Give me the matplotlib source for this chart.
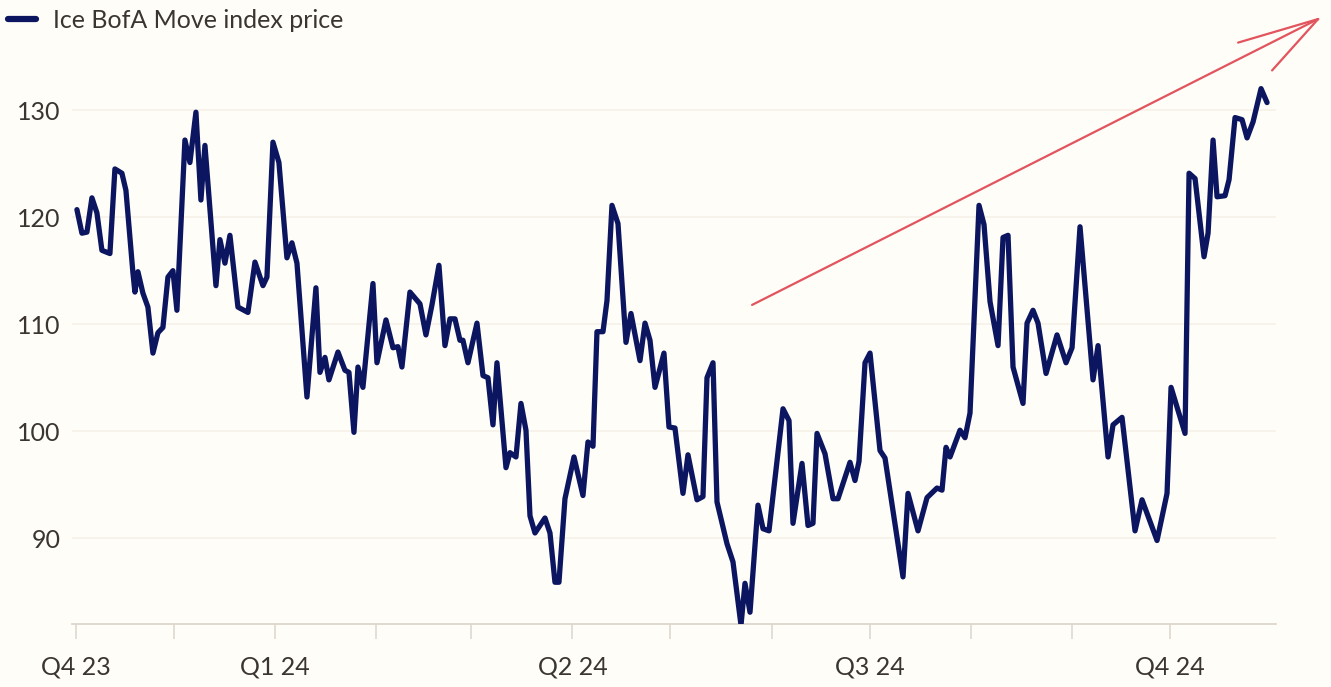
import matplotlib
matplotlib.use("Agg")
import matplotlib.pyplot as plt
import pandas as pd

# ---- data ----
start_date = "2023-11-01"
# days since start_date
days = [0.31, 1.84, 3.37, 4.90, 6.43, 7.96, 10.41, 11.94, 14.08, 15.31, 17.45, 18.06,
        18.98, 20.51, 22.04, 23.58, 25.11, 26.64, 28.17, 29.70, 30.92, 33.37, 34.90,
        36.74, 38.27, 39.50, 42.87, 44.09, 45.62, 47.15, 49.60, 52.66, 54.81, 57.26,
        58.48, 60.32, 62.15, 64.60, 66.13, 67.67, 70.73, 73.48, 74.71, 76.24, 77.46,
        80.22, 82.36, 83.59, 85.12, 86.34, 87.87, 90.94, 92.16, 94.92, 97.06, 98.59,
        99.81, 102.26, 105.33, 107.16, 109.00, 111.14, 112.98, 114.51, 116.04, 117.57,
        118.49, 120.02, 122.78, 124.62, 126.15, 127.68, 128.90, 131.66, 132.88, 134.72,
        136.25, 137.78, 139.01, 140.54, 143.60, 145.13, 146.66, 147.88, 149.72, 152.48,
        155.23, 156.76, 158.30, 159.52, 161.36, 162.58, 164.11, 165.95, 168.40, 169.93,
        172.69, 174.22, 175.75, 177.28, 180.03, 181.56, 183.40, 185.85, 187.38, 190.14,
        191.97, 193.20, 195.04, 196.26, 199.32, 201.16, 203.61, 204.83, 206.37, 208.81,
        210.35, 212.18, 216.47, 218.31, 219.53, 222.29, 224.12, 225.65, 226.88, 229.33,
        231.78, 233.31, 236.98, 238.51, 239.74, 241.58, 243.11, 246.17, 247.70, 253.21,
        254.74, 257.80, 260.56, 263.62, 265.15, 266.38, 267.60, 270.66, 272.19, 273.72,
        276.48, 278.01, 279.85, 282.30, 283.83, 285.36, 286.89, 289.95, 291.18, 293.01,
        294.54, 297.00, 300.36, 303.12, 304.96, 307.40, 311.38, 312.92, 315.98, 317.51,
        320.26, 324.24, 326.39, 330.98, 334.04, 335.27, 339.55, 340.78, 342.62, 345.37,
        346.60, 348.13, 349.35, 351.80, 353.03, 354.86, 357.01, 358.54, 360.38, 362.82,
        364.66]
move_index = [120.7, 118.5, 118.6, 121.8, 120.4, 116.9, 116.6, 124.5, 124.1, 122.5, 114.8, 113.0,
              114.9, 112.9, 111.6, 107.3, 109.2, 109.7, 114.4, 115.0, 111.3, 127.2, 125.1,
              129.8, 121.6, 126.7, 113.6, 117.9, 115.7, 118.3, 111.6, 111.1, 115.8, 113.6,
              114.4, 127.0, 125.1, 116.2, 117.6, 115.7, 103.2, 113.4, 105.5, 106.9, 104.8,
              107.4, 105.7, 105.5, 99.9, 106.0, 104.1, 113.8, 106.4, 110.4, 107.8, 107.9,
              106.0, 113.0, 111.9, 109.0, 111.8, 115.5, 108.0, 110.5, 110.5, 108.5,
              108.5, 106.4, 110.1, 105.2, 105.0, 100.6, 106.4, 96.6, 98.0, 97.6,
              102.6, 100.1, 92.1, 90.5, 91.9, 90.5, 85.9, 85.9, 93.7, 97.6,
              94.0, 99.0, 98.6, 109.3, 109.3, 112.2, 121.1, 119.4, 108.3, 111.0,
              106.6, 110.1, 108.5, 104.1, 107.3, 100.4, 100.3, 94.2, 97.8, 93.6,
              93.9, 105.0, 106.4, 93.4, 89.5, 87.8, 81.9, 85.8, 83.1, 93.1,
              90.9, 90.7, 102.1, 101.0, 91.4, 97.0, 91.2, 91.4, 99.8, 97.9,
              93.7, 93.7, 97.1, 95.4, 97.2, 106.4, 107.3, 98.2, 97.5, 86.4,
              94.2, 90.7, 93.8, 94.7, 94.5, 98.5, 97.6, 100.1, 99.4, 101.7,
              121.1, 119.3, 112.1, 108.0, 118.1, 118.3, 106.0, 102.6, 110.1, 111.3,
              110.1, 105.4, 109.0, 106.4, 107.8, 119.1, 104.8, 108.0, 97.6, 100.6,
              101.3, 90.7, 93.6, 89.8, 94.2, 104.1, 99.8, 124.1, 123.6, 116.3,
              118.5, 127.2, 121.9, 122.0, 123.5, 129.3, 129.1, 127.4, 128.9, 132.0,
              130.7]
series_label = "Ice BofA Move index price"
major_tick_dates = ["2023-11-01", "2024-01-01", "2024-04-01", "2024-07-01", "2024-10-01"]
major_tick_labels = ["Q4 23", "Q1 24", "Q2 24", "Q3 24", "Q4 24"]
minor_tick_dates = ["2023-12-01", "2024-02-01", "2024-03-01", "2024-05-01",
                    "2024-06-01", "2024-08-01", "2024-09-01"]
y_ticks = [90, 100, 110, 120, 130]

# ---- style ----
BG = "#fffdf7"
NAVY = "#0c1660"
TEXT = "#3a3530"
AXIS = "#ddd6cc"
GRID = "#f6f1e8"
RED = "#e2545e"
FONT = "Lato"

plt.rcParams["font.family"] = [FONT, "DejaVu Sans"]

W, H = 1331, 687
fig = plt.figure(figsize=(W / 100, H / 100), dpi=100, facecolor=BG)
ax = fig.add_axes([72 / W, 63 / H, (1276 - 72) / W, (624 - 85) / H])
ax.set_facecolor(BG)

t0 = pd.Timestamp(start_date)
dates = t0 + pd.to_timedelta(days, unit="D")

line, = ax.plot(dates, move_index, color=NAVY, lw=3.8, solid_joinstyle="round",
                solid_capstyle="round", label=series_label, zorder=3)

ax.set_xlim(t0 + pd.Timedelta(days=-1.2), t0 + pd.Timedelta(days=367.4))
ax.set_ylim(82.0, 132.34)

ax.set_xticks([pd.Timestamp(d) for d in major_tick_dates])
ax.set_xticklabels(major_tick_labels)
ax.set_xticks([pd.Timestamp(d) for d in minor_tick_dates], minor=True)
ax.tick_params(axis="x", which="both", length=11, width=1.1, color=AXIS,
               labelsize=18, labelcolor=TEXT, pad=12)

ax.set_yticks(y_ticks)
ax.set_yticklabels([str(v) for v in y_ticks])
ax.tick_params(axis="y", length=0, labelsize=18, labelcolor=TEXT, pad=8)
ax.grid(axis="y", color=GRID, lw=1.2, zorder=0)

for s in ["top", "right", "left"]:
    ax.spines[s].set_visible(False)
ax.spines["bottom"].set_color(AXIS)
ax.spines["bottom"].set_linewidth(1.3)

# legend
leg = fig.legend(handles=[line], loc="upper left", bbox_to_anchor=(8 / W, 1 - 9 / H),
                 frameon=False, fontsize=18, handlelength=1.1, handletextpad=0.7,
                 borderpad=0, borderaxespad=0)
for t in leg.get_texts():
    t.set_color(TEXT)
leg.get_lines()[0].set_linewidth(4.5)

# red hand-drawn style arrow (annotation), in data coordinates
arrow_start = (207.0, 111.8)
arrow_tip = (380.3, 138.5)
barb_upper = (355.8, 136.3)
barb_lower = (366.2, 133.7)

def to_date(d):
    return t0 + pd.Timedelta(days=d)

for a, b in [(arrow_start, arrow_tip), (barb_upper, arrow_tip), (barb_lower, arrow_tip)]:
    ax.plot([to_date(a[0]), to_date(b[0])], [a[1], b[1]], color=RED, lw=1.6,
            solid_capstyle="round", clip_on=False, zorder=4)

fig.savefig("out.png", dpi=100, facecolor=BG)
